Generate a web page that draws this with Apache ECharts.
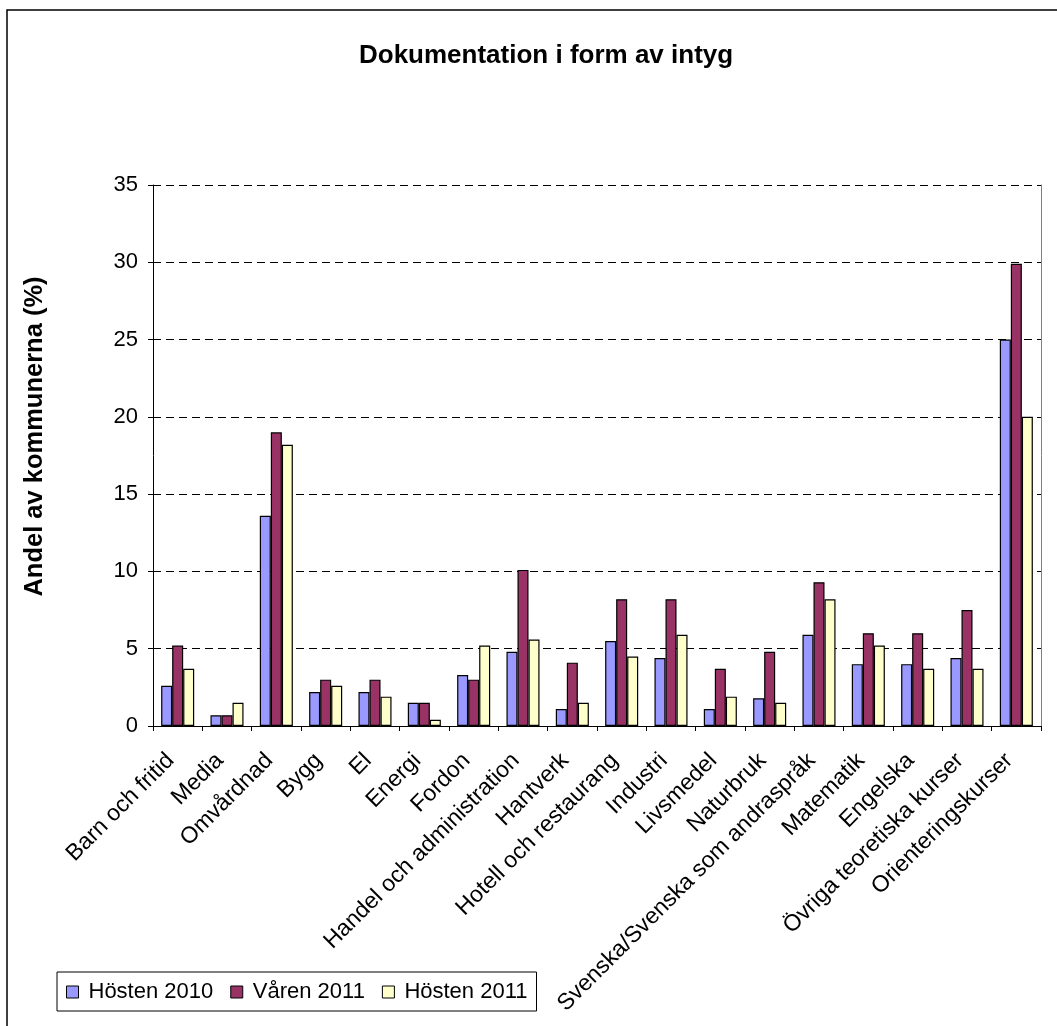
<!DOCTYPE html>
<html>
<head>
<meta charset="utf-8">
<script src="https://cdn.jsdelivr.net/npm/echarts@6/dist/echarts.min.js"></script>
<style>html,body{margin:0;padding:0;background:#fff;}#c{width:1057px;height:1026px;}</style>
</head>
<body>
<div id="c"></div>
<script>
const categories = ["Barn och fritid","Media","Omvårdnad","Bygg","El","Energi","Fordon","Handel och administration","Hantverk","Hotell och restaurang","Industri","Livsmedel","Naturbruk","Svenska/Svenska som andraspråk","Matematik","Engelska","Övriga teoretiska kurser","Orienteringskurser"];
const seriesNames = ["Hösten 2010","Våren 2011","Hösten 2011"];
const hosten2010 = [2.6,0.7,13.6,2.2,2.2,1.5,3.3,4.8,1.1,5.5,4.4,1.1,1.8,5.9,4.0,4.0,4.4,25.0];
const varen2011 = [5.2,0.7,19.0,3.0,3.0,1.5,3.0,10.1,4.1,8.2,8.2,3.7,4.8,9.3,6.0,6.0,7.5,29.9];
const hosten2011 = [3.7,1.5,18.2,2.6,1.9,0.4,5.2,5.6,1.5,4.5,5.9,1.9,1.5,8.2,5.2,3.7,3.7,20.0];
const colors = ["#9999FF","#993366","#FFFFCC"];
const FONT = "'Liberation Sans', Arial, sans-serif";

const chart = echarts.init(document.getElementById('c'), null, {renderer:'canvas'});
const data = [hosten2010, varen2011, hosten2011];
chart.setOption({
  animation:false,
  backgroundColor:'#fff',
  title:{
    text:'Dokumentation i form av intyg',
    left:354, top:38,
    textStyle:{fontFamily:FONT,fontSize:26,fontWeight:'bold',color:'#000'}
  },
  graphic:[{
    type:'rect', silent:true,
    shape:{x:7,y:10,width:1070,height:1040},
    style:{fill:'none',stroke:'#000',lineWidth:1.5}
  }],
  legend:{
    left:57, top:972,
    orient:'horizontal',
    data:seriesNames,
    icon:'rect', itemWidth:12, itemHeight:12, itemGap:17,
    padding:[9,9,8,9],
    borderColor:'#000', borderWidth:1,
    itemStyle:{borderColor:'#000',borderWidth:1},
    textStyle:{fontFamily:FONT,fontSize:22,color:'#000',padding:[0,0,0,5]}
  },
  grid:{left:153,right:16,top:185,bottom:300,containLabel:false},
  xAxis:{
    type:'category',
    data:categories,
    boundaryGap:true,
    axisLine:{lineStyle:{color:'#000',width:1}},
    axisTick:{show:true,alignWithLabel:false,length:5,inside:false,lineStyle:{color:'#000'}},
    axisLabel:{interval:0,rotate:45,margin:24,padding:[0,10,0,0],fontFamily:FONT,fontSize:23,color:'#000'},
    splitLine:{show:false}
  },
  yAxis:[{
    type:'value',
    min:0,max:35,interval:5,
    name:'Andel av kommunerna (%)',
    nameLocation:'middle',
    nameRotate:90,
    nameGap:105,
    nameTextStyle:{fontFamily:FONT,fontSize:25.5,fontWeight:'bold',color:'#000',padding:[0,0,0,38]},
    axisLine:{show:true,lineStyle:{color:'#000',width:1}},
    axisTick:{show:true,length:5,lineStyle:{color:'#000'}},
    axisLabel:{margin:15,fontFamily:FONT,fontSize:22,color:'#000'},
    splitLine:{show:true,lineStyle:{color:'#000',type:[8,5],width:1}}
  },{
    type:'value',
    min:0,max:35,interval:5,
    position:'right',
    axisLine:{show:true,lineStyle:{color:'#808080',width:1}},
    axisTick:{show:false},
    axisLabel:{show:false},
    splitLine:{show:false}
  }],
  series:seriesNames.map((n,i)=>({
    name:n,
    type:'bar',
    data:data[i],
    yAxisIndex:0,
    barGap:'0%',
    barCategoryGap:'33%',
    itemStyle:{color:colors[i],borderColor:'#000',borderWidth:1.2}
  }))
});
</script>
</body>
</html>
